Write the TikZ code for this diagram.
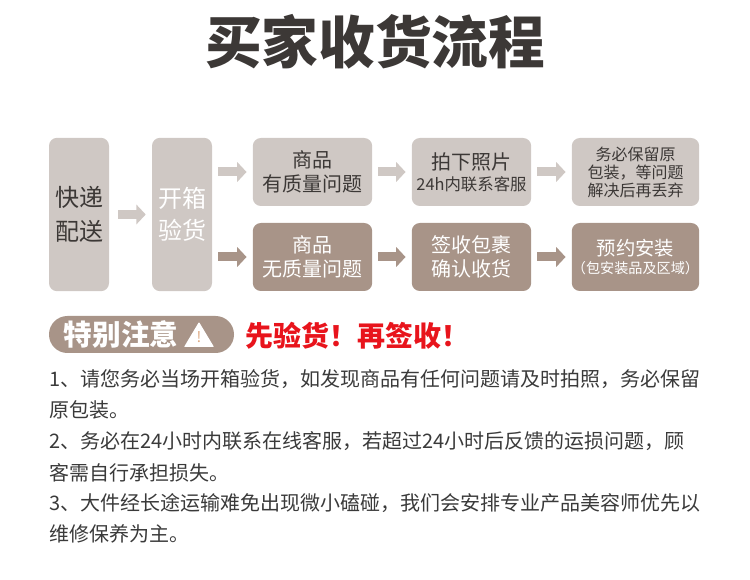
\documentclass[tikz,border=0pt]{standalone}
\usepackage{fontspec}
\setmainfont{Noto Sans CJK SC}
\usetikzlibrary{arrows.meta}

\definecolor{lightbox}{HTML}{CFC8C4}
\definecolor{darkbox}{HTML}{A89488}
\definecolor{inktext}{HTML}{3C3836}
\definecolor{bodytext}{HTML}{3A3A3A}
\definecolor{alertred}{HTML}{E8141C}
\definecolor{warnmark}{HTML}{DDA77E}

\newcommand{\pxfont}[2]{\fontsize{#1}{#2}\selectfont}

\tikzset{
 lightnode/.style={fill=lightbox, text=inktext, rounded corners=6pt, inner sep=0pt, align=center},
 darknode/.style={fill=darkbox, text=white, rounded corners=6pt, inner sep=0pt, align=center},
 tallnode/.style={minimum width=45pt, minimum height=115pt},
 widenode/.style={minimum width=89.5pt, minimum height=51pt},
 lastnode/.style={minimum width=95.5pt, minimum height=51pt},
 lightarrow/.style={draw=lightbox, line width=6.75pt, -{Triangle[length=7pt, width=14.5pt]}, shorten <=6.75pt, shorten >=4.5pt},
 darkarrow/.style={draw=darkbox, line width=6.75pt, -{Triangle[length=7pt, width=14.5pt]}, shorten <=4.5pt, shorten >=4.5pt},
 bodyline/.style={anchor=west, inner sep=0pt, text=bodytext, font=\pxfont{15}{18}}
}

\begin{document}
\begin{tikzpicture}[x=0.75pt, y=-0.75pt]
 \useasboundingbox (0,0) rectangle (750,580);

 \draw (375,42) node[text=inktext, font=\bfseries\pxfont{42.5}{50}] (title) {买家收货流程};

 \draw (79,214.5) node[lightnode, tallnode, font=\pxfont{18}{26}] (delivery) {快递\\配送};
 \draw (182,214.5) node[lightnode, tallnode, text=white, font=\pxfont{18}{24}] (unbox) {开箱\\验货};

 \draw (312.5,172) node[lightnode, widenode, font=\pxfont{15}{18}] (faulty) {商品\\有质量问题};
 \draw (471.5,172) node[lightnode, widenode] (photo) {{\pxfont{15}{20}拍下照片}\\[3.5pt]{\pxfont{12.3}{16}24h内联系客服}};
 \draw (635.5,172) node[lightnode, lastnode, font=\pxfont{12}{13.5}] (keep) {务必保留原\\包装，等问题\\解决后再丢弃};

 \draw (312.5,257) node[darknode, widenode, font=\pxfont{15}{18}] (sound) {商品\\无质量问题};
 \draw (471.5,257) node[darknode, widenode, font=\pxfont{15}{18}] (sign) {签收包裹\\确认收货};
 \draw (635.5,257) node[darknode, lastnode] (install) {{\pxfont{14.5}{18}预约安装}\\[2pt]{\pxfont{10.6}{15}（包安装品及区域）}};

 \draw[lightarrow] (delivery) -- (unbox);
 \draw[lightarrow, shorten <=4.5pt] (unbox.east |- faulty.west) -- (faulty.west);
 \draw[lightarrow, shorten <=4.5pt] (faulty) -- (photo);
 \draw[lightarrow, shorten <=4.5pt] (photo) -- (keep);
 \draw[darkarrow] (unbox.east |- sound.west) -- (sound.west);
 \draw[darkarrow] (sound) -- (sign);
 \draw[darkarrow] (sign) -- (install);

 \draw (141.5,334.5) node[fill=darkbox, rounded corners=13.8pt, minimum width=138.75pt, minimum height=27.75pt, inner sep=0pt] (notice) {};
 \draw (121,334.5) node[text=white, inner sep=0pt, font=\bfseries\pxfont{21.5}{25}] (noticetext) {特别注意};
 \fill[white, rounded corners=0.5pt] (184,347) -- (199,322) -- (214,347) -- cycle;
 \draw (199,337) node[text=warnmark, inner sep=0pt, font=\pxfont{11}{13}] (mark) {!};
 \draw (245,335.5) node[anchor=west, inner sep=0pt, text=alertred, font=\bfseries\pxfont{21}{25}] (alert) {先验货！再签收！};

 \draw (49,379) node[bodyline] (line1) {1、请您务必当场开箱验货，如发现商品有任何问题请及时拍照，务必保留};
 \draw (49,410) node[bodyline] (line2) {原包装。};
 \draw (49,441) node[bodyline] (line3) {2、务必在24小时内联系在线客服，若超过24小时后反馈的运损问题，顾};
 \draw (49,473) node[bodyline] (line4) {客需自行承担损失。};
 \draw (49,503) node[bodyline] (line5) {3、大件经长途运输难免出现微小磕碰，我们会安排专业产品美容师优先以};
 \draw (49,534) node[bodyline] (line6) {维修保养为主。};
\end{tikzpicture}
\end{document}
